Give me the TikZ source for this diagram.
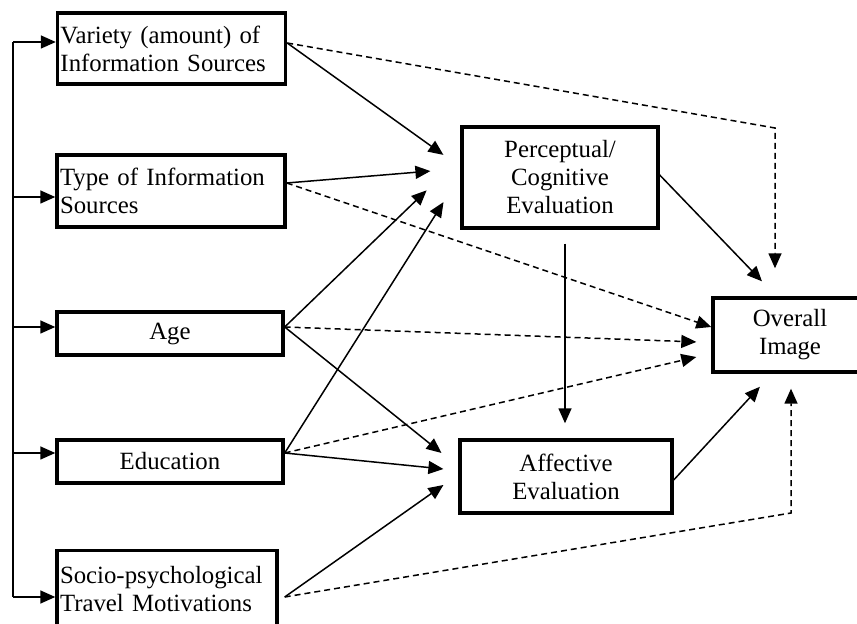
\documentclass[tikz,border=0pt]{standalone}
\usepackage{fontspec}
\setmainfont{Liberation Serif}
\usetikzlibrary{arrows.meta}

\begin{document}
\begin{tikzpicture}[x=0.5pt,y=-0.5pt,
    every node/.style={draw,line width=1.7pt,inner sep=1.5pt,
      font=\fontsize{12.4}{14}\selectfont},
    leftbox/.style={align=left,text width=#1},
    midbox/.style={align=center,minimum width=#1},
    link/.style={line width=0.75pt,-{Triangle[length=7.5pt,width=6.5pt]}},
    dlink/.style={link,dash pattern=on 3pt off 2pt}
  ]

    \useasboundingbox (0,0) rectangle (857,624);
    \clip (0,0) rectangle (857,624);

    % antecedents
    \node[leftbox=111pt,minimum height=35.5pt] (var)  at (171.5,48.5) {Variety (amount) of\\Information Sources};
    \node[leftbox=111pt,minimum height=36pt]   (type) at (171,191)    {Type of Information\\Sources};
    \node[midbox=113pt,minimum height=21.5pt]  (age)  at (170,333.5)  {Age};
    \node[midbox=113pt,minimum height=21.5pt]  (edu)  at (170,461.5)  {Education};
    \node[leftbox=107pt,minimum height=38.5pt] (soc)  at (167,589)    {Socio-psychological\\Travel Motivations};

    % evaluations and image
    \node[midbox=98pt,minimum height=50.5pt]  (perc) at (560,177.5) {Perceptual/\\Cognitive\\Evaluation};
    \node[midbox=106pt,minimum height=36.5pt] (aff)  at (566,476.5) {Affective\\Evaluation};
    \node[midbox=77pt,minimum height=37pt]    (ovr)  at (790,335)   {Overall\\Image};

    % feeding line on the left
    \coordinate (top) at (13,42);
    \coordinate (bot) at (13,597);
    \draw[line width=0.75pt] (top) -- (bot);
    \foreach \b/\s in {var/3.25,type/-3,age/3.25,edu/4.25,soc/-4}
      \draw[link] ([yshift=\s pt]\b.west -| top) -- ([yshift=\s pt]\b.west);

    \coordinate (var-o)  at ([yshift=2.75pt]var.east);
    \coordinate (type-o) at ([yshift=4pt]type.east);
    \coordinate (age-o)  at ([yshift=3.25pt]age.east);
    \coordinate (edu-o)  at ([yshift=4.25pt]edu.east);
    \coordinate (soc-o)  at ([xshift=3pt,yshift=-4pt]soc.east);

    % solid paths
    \draw[link,shorten >=10.4pt] (var-o)  -- ([yshift=5.25pt]perc.west);
    \draw[link,shorten >=15pt]   (type-o) -- ([yshift=4.45pt]perc.west);
    \draw[link,shorten >=23.4pt] (age-o)  -- ([yshift=9.8pt]perc.west);
    \draw[link,shorten >=15.7pt] (edu-o)  -- ([yshift=0.95pt]perc.west);

    \draw[link,shorten >=10.8pt] (age-o) -- ([yshift=5pt]aff.west);
    \draw[link,shorten >=7.5pt]  (edu-o) -- ([yshift=3pt]aff.west);
    \draw[link,shorten >=9.1pt]  (soc-o) -- ([yshift=1pt]aff.west);

    \draw[link,shorten <=7pt,shorten >=7.5pt] ([xshift=2.5pt]perc.south) -- ([xshift=2.5pt]perc.south |- aff.north);
    \draw[link,shorten >=10.4pt] ([yshift=1.25pt]perc.east) -- ([xshift=-6.8pt]ovr.north);
    \draw[link,shorten >=8.9pt]  ([yshift=-1.75pt]aff.east) -- ([xshift=-9pt]ovr.south);

    % dashed paths
    \coordinate (vbend) at (775,128);
    \coordinate (sbend) at (791,513);
    \draw[dlink,shorten >=14pt]  (var-o) -- (vbend) -- (vbend |- ovr.north);
    \draw[dlink]                 (type-o) -- ([yshift=4pt]ovr.west);
    \draw[dlink,shorten >=7.5pt] (age-o) -- ([yshift=-3.75pt]ovr.west);
    \draw[dlink,shorten >=7.7pt] (edu-o) -- ([yshift=-9.25pt]ovr.west);
    \draw[dlink,shorten >=7.5pt] (soc-o) -- (sbend) -- (sbend |- ovr.south);
\end{tikzpicture}
\end{document}
